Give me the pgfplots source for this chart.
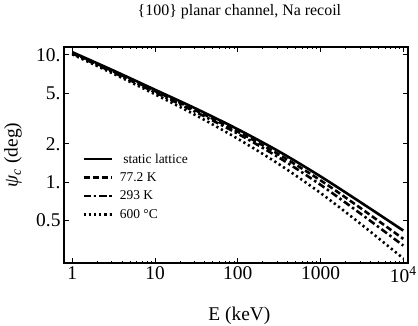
\documentclass[border=0pt]{standalone}
\usepackage{fontspec}
\setmainfont{Liberation Serif}
\usepackage{pgfplots}
\pgfplotsset{compat=1.18}

% critical angle vs recoil energy
\pgfplotsset{
  curve/.style={black, line width=2.6bp, line cap=butt, smooth, tension=0.5},
}

\begin{document}
\begin{tikzpicture}
\begin{axis}[
    name=main,
    scale only axis,
    width=344bp, height=216bp,
    xmode=log, ymode=log,
    xmin=0.794, xmax=11400,
    ymin=0.232, ymax=11.5,
    xtick={1,10,100,1000,10000},
    xticklabels={1,10,100,1000,10\textsuperscript{4}},
    ytick={0.5,1,2,5,10},
    yticklabels={0.5,1.,2.,5.,10.},
    yminorticks=false,
    tick align=inside,
    major tick length=5bp,
    minor tick length=2.5bp,
    axis line style={line width=1.2bp},
    every tick/.style={black, line width=0.8bp},
    ticklabel style={font=\fontsize{19.5}{19.5}\selectfont},
    title={\{100\} planar channel, Na recoil},
    title style={at={(axis description cs:0.51,1.135)}, anchor=center,
                 font=\fontsize{16}{16}\selectfont},
    xlabel={E (keV)},
    xlabel style={at={(axis description cs:0.51,-0.245)}, anchor=center,
                  font=\fontsize{19.5}{19.5}\selectfont},
    ylabel={\textit{ψ}\textsubscript{\textit{c}} (deg)},
    ylabel style={at={(axis description cs:-0.148,0.5)}, anchor=center,
                  rotate=0, font=\fontsize{19.5}{19.5}\selectfont},
    legend style={at={(axis description cs:0.044,0.525)}, anchor=north west,
                  draw=none, fill=none, row sep=4bp,
                  font=\fontsize{13.5}{13.5}\selectfont,
                  /tikz/every odd column/.append style={column sep=5bp}},
    legend cell align=left,
    legend image code/.code={
      \draw[#1] plot coordinates {(0bp,0bp) (14bp,0bp) (28bp,0bp)};
    },
]
\addplot[curve] coordinates {
  (1,10.47) (3.162,7.50) (10,5.31) (31.62,3.76) (100,2.60)
  (316.2,1.738) (1000,1.109) (3162,0.684) (10000,0.417)};
\addlegendentry{\ static lattice}
\addplot[curve, dash pattern=on 6bp off 3bp] coordinates {
  (1,10.35) (3.162,7.38) (10,5.19) (31.62,3.64) (100,2.49)
  (316.2,1.644) (1000,1.033) (3162,0.615) (10000,0.359)};
\addlegendentry{77.2 K}
\addplot[curve, dash pattern=on 7bp off 3bp on 2.5bp off 3bp] coordinates {
  (1,10.23) (3.162,7.24) (10,5.07) (31.62,3.53) (100,2.40)
  (316.2,1.556) (1000,0.953) (3162,0.556) (10000,0.318)};
\addlegendentry{293 K}
\addplot[curve, dash pattern=on 2.2bp off 3bp] coordinates {
  (1,10.07) (3.162,7.08) (10,4.89) (31.62,3.33) (100,2.19)
  (316.2,1.380) (1000,0.822) (3162,0.462) (10000,0.252)};
\addlegendentry{600 °C}
\end{axis}
\pgfresetboundingbox
\path[use as bounding box]
  ([shift={(-64bp,-63bp)}]main.south west) rectangle
  ([shift={(10bp,47bp)}]main.north east);
\end{tikzpicture}
\end{document}
